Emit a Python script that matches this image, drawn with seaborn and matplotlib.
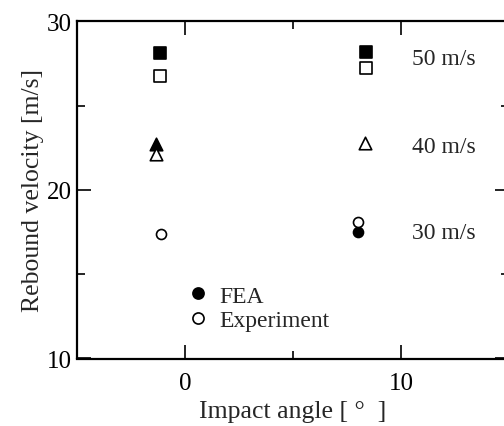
import matplotlib
matplotlib.use("Agg")
import matplotlib.pyplot as plt
from matplotlib.lines import Line2D
from matplotlib.ticker import MultipleLocator
import seaborn as sns
import pandas as pd

# ---- data ----
speed_labels = ["50 m/s", "40 m/s", "30 m/s"]
speed_label_y = [27.8, 22.6, 17.5]

fea_50_x = [-1.15, 8.4]
fea_50_y = [28.1, 28.16]
exp_50_x = [-1.15, 8.4]
exp_50_y = [26.77, 27.21]

fea_40_x = [-1.35]
fea_40_y = [22.72]
exp_40_x = [-1.35, 8.35]
exp_40_y = [22.12, 22.78]

fea_30_x = [8.0]
fea_30_y = [17.48]
exp_30_x = [-1.1, 8.0]
exp_30_y = [17.38, 18.07]

legend_labels = ["FEA", "Experiment"]

sns.set_theme(style="ticks")
plt.rcParams["font.family"] = ["Liberation Serif", "DejaVu Serif"]

fig = plt.figure(figsize=(5.04, 4.27), dpi=100)
ax = fig.add_axes([77 / 504, (427 - 359.5) / 427, (509 - 77) / 504, (359.5 - 22.3) / 427])

groups = [
    (fea_50_x, fea_50_y, "s", True, 8.0),
    (exp_50_x, exp_50_y, "s", False, 8.0),
    (fea_40_x, fea_40_y, "^", True, 9.0),
    (exp_40_x, exp_40_y, "^", False, 9.0),
    (fea_30_x, fea_30_y, "o", True, 7.2),
    (exp_30_x, exp_30_y, "o", False, 7.2),
]
for xs, ys, mk, filled, ms in groups:
    df = pd.DataFrame({"angle": xs, "velocity": ys})
    sns.scatterplot(data=df, x="angle", y="velocity", ax=ax, marker=mk,
                    s=ms ** 2, color="black",
                    facecolor="black" if filled else "white",
                    edgecolor="black", linewidth=1.2, zorder=3)

ax.set_xlim(-5, 15)
ax.set_ylim(10, 30)
ax.xaxis.set_major_locator(MultipleLocator(10))
ax.xaxis.set_minor_locator(MultipleLocator(5))
ax.yaxis.set_major_locator(MultipleLocator(10))
ax.yaxis.set_minor_locator(MultipleLocator(5))
ax.tick_params(which="both", direction="in", top=True, right=True,
               width=1.2, labelsize=18, colors="black")
ax.tick_params(which="major", length=10)
ax.tick_params(axis="y", which="major", pad=4)
ax.tick_params(axis="x", which="major", pad=10)
ax.tick_params(which="minor", length=6)
for sp in ax.spines.values():
    sp.set_linewidth(1.6)
    sp.set_color("black")

ax.set_xlabel("Impact angle [ °  ]", fontsize=18.5, labelpad=4)
ax.set_ylabel("Rebound velocity [m/s]", fontsize=18.5, labelpad=2)

for lab, yv in zip(speed_labels, speed_label_y):
    ax.text(10.53, yv, lab, fontsize=17, va="center", ha="left")

handles = [
    Line2D([], [], marker="o", ls="none", mfc="black", mec="black", ms=8, mew=1.2),
    Line2D([], [], marker="o", ls="none", mfc="white", mec="black", ms=8, mew=1.2),
]
ax.legend(handles, legend_labels, loc="upper left", bbox_to_anchor=(0.2265, 0.246),
          frameon=False, fontsize=17, handletextpad=0.3, labelspacing=0.12,
          handlelength=1.2, borderaxespad=0)

fig.savefig("out.png", dpi=100)
